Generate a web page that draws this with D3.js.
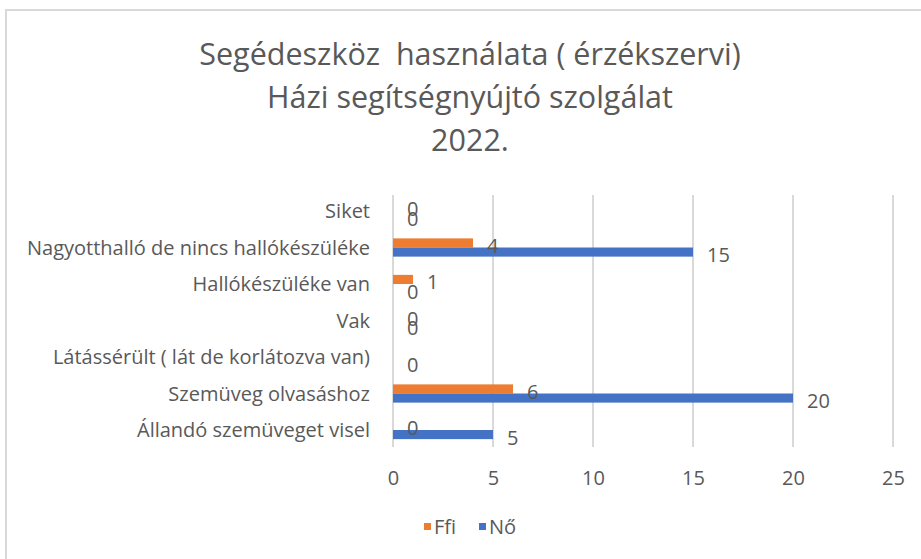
<!DOCTYPE html>
<html>
<head>
<meta charset="utf-8">
<script src="https://cdn.jsdelivr.net/npm/d3@7"></script>
<style>
  body { margin: 0; background: #fff; }
  text { font-family: "Open Sans", "Noto Sans", sans-serif; fill: #595959; white-space: pre; }
</style>
</head>
<body>
<div></div>
<script>
const width = 921;
const height = 559;

const titleLines = [
  "Segédeszköz  használata ( érzékszervi)",
  "Házi segítségnyújtó szolgálat",
  "2022.",
];

const categories = [
  "Siket",
  "Nagyotthalló de nincs hallókészüléke",
  "Hallókészüléke van",
  "Vak",
  "Látássérült ( lát de korlátozva van)",
  "Szemüveg olvasáshoz",
  "Állandó szemüveget visel",
];

const seriesNames = ["Ffi", "Nő"];
const ffiValues = [0, 4, 1, 0, null, 6, 0];
const noValues = [0, 15, 0, 0, 0, 20, 5];
const seriesColours = ["#ED7D31", "#4472C4"];

const xTicks = [0, 5, 10, 15, 20, 25];

const svg = d3
  .select("div")
  .append("svg")
  .attr("width", width)
  .attr("height", height);

// chart area border (right and bottom edges are off the picture)
svg
  .append("rect")
  .attr("x", 6)
  .attr("y", 10)
  .attr("width", 930)
  .attr("height", 570)
  .attr("fill", "#fff")
  .attr("stroke", "#d9d9d9")
  .attr("stroke-width", 2);

svg
  .append("g")
  .selectAll("text")
  .data(titleLines)
  .enter()
  .append("text")
  .attr("x", 470)
  .attr("y", (d, i) => 65 + i * 43)
  .attr("text-anchor", "middle")
  .style("font-size", "30.5px")
  .text((d) => d);

const x = d3.scaleLinear().domain([0, 25]).range([393, 893]);
const y = d3.scaleBand().domain(categories).range([192.75, 448.25]);
const ySeries = d3
  .scaleBand()
  .domain(seriesNames)
  .range([0, y.bandwidth()])
  .paddingInner(0)
  .paddingOuter(1);

// gridlines
svg
  .append("g")
  .selectAll("line")
  .data(xTicks)
  .enter()
  .append("line")
  .attr("x1", (d) => x(d))
  .attr("x2", (d) => x(d))
  .attr("y1", 195)
  .attr("y2", 447)
  .attr("stroke", "#d9d9d9")
  .attr("stroke-width", 2);

const xAxis = d3
  .axisBottom(x)
  .tickValues(xTicks)
  .tickSize(0)
  .tickPadding(0);

svg
  .append("g")
  .attr("transform", "translate(0,478)")
  .call(xAxis)
  .call((g) => g.select(".domain").remove())
  .selectAll("text")
  .attr("dy", "0.35em")
  .style("font-size", "20px")
  .style("font-family", '"Open Sans", sans-serif')
  .attr("fill", "#595959");

const yAxis = d3.axisLeft(y).tickSize(0).tickPadding(0);

svg
  .append("g")
  .attr("transform", "translate(370,1)")
  .call(yAxis)
  .call((g) => g.select(".domain").remove())
  .selectAll("text")
  .style("font-size", "20px")
  .style("font-family", '"Open Sans", sans-serif')
  .attr("fill", "#595959");

// one row per drawn bar, both series
const rows = [];
[ffiValues, noValues].forEach((values, s) => {
  categories.forEach((c, i) => {
    if (values[i] !== null) {
      rows.push({ category: c, series: seriesNames[s], s: s, value: values[i] });
    }
  });
});

svg
  .append("g")
  .selectAll("rect")
  .data(rows)
  .enter()
  .append("rect")
  .attr("x", x(0))
  .attr("y", (d) => y(d.category) + ySeries(d.series))
  .attr("width", (d) => x(d.value) - x(0))
  .attr("height", ySeries.bandwidth())
  .attr("fill", (d) => seriesColours[d.s]);

// data labels on top of all bars
svg
  .append("g")
  .selectAll("text")
  .data(rows)
  .enter()
  .append("text")
  .attr("x", (d) => x(d.value) + 14)
  .attr("y", (d) => y(d.category) + ySeries(d.series) + ySeries.bandwidth() / 2 + 3)
  .attr("dy", "0.35em")
  .style("font-size", "20px")
  .text((d) => d.value);

// legend
const legend = svg
  .append("g")
  .selectAll("g")
  .data(seriesNames)
  .enter()
  .append("g")
  .attr("transform", (d, i) => "translate(" + (424 + i * 55) + ",523)");

legend
  .append("rect")
  .attr("width", 7)
  .attr("height", 7)
  .attr("fill", (d, i) => seriesColours[i]);

legend
  .append("text")
  .attr("x", 10)
  .attr("y", 4)
  .attr("dy", "0.35em")
  .style("font-size", "20px")
  .text((d) => d);
</script>
</body>
</html>
